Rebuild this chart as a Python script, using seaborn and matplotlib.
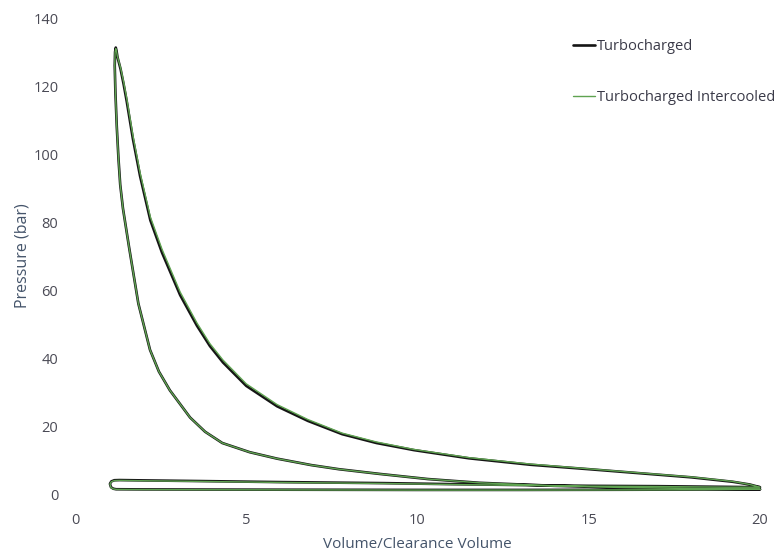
import numpy as np
import pandas as pd
import matplotlib
matplotlib.use("Agg")
import matplotlib.pyplot as plt
import seaborn as sns

# Path around the cycle: compression -> peak -> expansion -> exhaust -> intake
volume = [
    20.0, 18.0, 16.0, 14.0, 11.8, 10.3, 8.9, 7.7, 6.9, 5.9, 5.1, 4.3, 3.8, 3.36,
    2.77, 2.45, 2.19, 1.85, 1.58, 1.40, 1.32, 1.27, 1.22, 1.18, 1.16,
    1.17, 1.19, 1.21, 1.24,
    1.33, 1.42, 1.51, 1.69, 1.90, 2.2, 2.54, 3.07, 3.56, 3.94, 4.32, 5.0, 5.9, 6.8,
    7.8, 8.8, 9.9, 11.5, 13.3, 15.0, 16.5, 18.0, 19.2, 19.7, 20.0,
    19.0, 17.0, 15.0, 13.3, 11.0, 9.0, 6.0, 3.7, 2.0, 1.3, 1.15, 1.06, 1.02,
    1.05, 1.12, 1.2,
    2.0, 4.0, 7.0, 10.0, 13.0, 16.0, 18.0, 20.0,
]

pressure_tc = [
    1.4, 1.6, 1.9, 2.4, 3.3, 4.4, 5.9, 7.3, 8.5, 10.4, 12.3, 15.0, 18.3, 22.5,
    30.5, 36.0, 42.4, 56.0, 72.5, 84.0, 91.0, 98.5, 108.0, 118.0, 126.0,
    130.0, 131.3, 130.5, 128.5,
    125.0, 120.5, 115.5, 104.5, 93.5, 80.5, 71.0, 58.5, 49.5, 43.5, 38.7, 31.8, 25.8, 21.5,
    17.6, 15.0, 12.9, 10.5, 8.6, 7.3, 6.1, 4.9, 3.6, 2.8, 2.0,
    2.1, 2.3, 2.4, 2.6, 2.9, 3.2, 3.5, 3.8, 4.0, 4.1, 4.05, 3.7, 3.0,
    2.0, 1.55, 1.4,
    1.35, 1.3, 1.25, 1.2, 1.2, 1.25, 1.3, 1.4,
]

pressure_tci = [
    1.4, 1.6, 1.9, 2.4, 3.3, 4.4, 5.9, 7.3, 8.5, 10.4, 12.3, 15.0, 18.3, 22.5,
    30.5, 36.0, 42.4, 56.0, 72.5, 84.0, 91.0, 98.5, 108.0, 118.0, 126.0,
    130.0, 131.0, 130.3, 128.6,
    125.4, 121.2, 116.4, 105.5, 94.5, 81.5, 72.0, 59.4, 50.3, 44.2, 39.4, 32.4, 26.3, 21.9,
    17.9, 15.3, 13.1, 10.7, 8.8, 7.4, 6.2, 5.0, 3.7, 2.8, 2.0,
    2.0, 2.2, 2.3, 2.5, 2.8, 3.1, 3.4, 3.7, 3.9, 4.0, 3.95, 3.6, 2.9,
    1.9, 1.5, 1.35,
    1.3, 1.25, 1.2, 1.15, 1.15, 1.2, 1.25, 1.4,
]

series_names = ["Turbocharged", "Turbocharged Intercooled"]
x_ticks = [0, 5, 10, 15, 20]
y_ticks = [0, 20, 40, 60, 80, 100, 120, 140]

df_tc = pd.DataFrame({"volume": volume, "pressure": pressure_tc})
df_tci = pd.DataFrame({"volume": volume, "pressure": pressure_tci})

sns.set_theme(style="white")
plt.rcParams["font.family"] = ["Open Sans", "DejaVu Sans"]

fig = plt.figure(figsize=(7.8, 5.54), dpi=100)
ax = fig.add_axes([75 / 780, 1 - 494 / 554, (760 - 75) / 780, (494 - 18) / 554])

sns.lineplot(data=df_tc, x="volume", y="pressure", sort=False, estimator=None,
             color="#151515", linewidth=1.9, ax=ax, label=series_names[0])
sns.lineplot(data=df_tci, x="volume", y="pressure", sort=False, estimator=None,
             color="#5fa351", linewidth=1.0, ax=ax, label=series_names[1])

ax.set_xlim(0, 20)
ax.set_ylim(0, 140)
ax.set_xticks(x_ticks)
ax.set_yticks(y_ticks)
for ln in ax.get_lines():
    ln.set_clip_on(False)
    ln.set_solid_joinstyle("round")

tick_color = "#4a4a55"
ax.tick_params(axis="x", length=0, pad=14, labelsize=10.5, labelcolor=tick_color)
ax.tick_params(axis="y", length=0, pad=12, labelsize=10.5, labelcolor=tick_color)
sns.despine(ax=ax, left=True, bottom=True)
ax.grid(False)

ax.set_xlabel("Volume/Clearance Volume", fontsize=11, color="#44546A", labelpad=6)
ax.set_ylabel("Pressure (bar)", fontsize=11.5, color="#44546A", labelpad=2)

ax.get_legend().remove()
handles, labels = ax.get_legend_handles_labels()
leg = fig.legend(handles, labels, loc="upper left",
                 bbox_to_anchor=(573 / 780, 1 - 39 / 554),
                 frameon=False, fontsize=10.5, handlelength=1.5, handletextpad=0.15,
                 labelspacing=2.45, borderpad=0, borderaxespad=0)
for t in leg.get_texts():
    t.set_color("#3a3a48")

fig.savefig("out.png", dpi=100)
